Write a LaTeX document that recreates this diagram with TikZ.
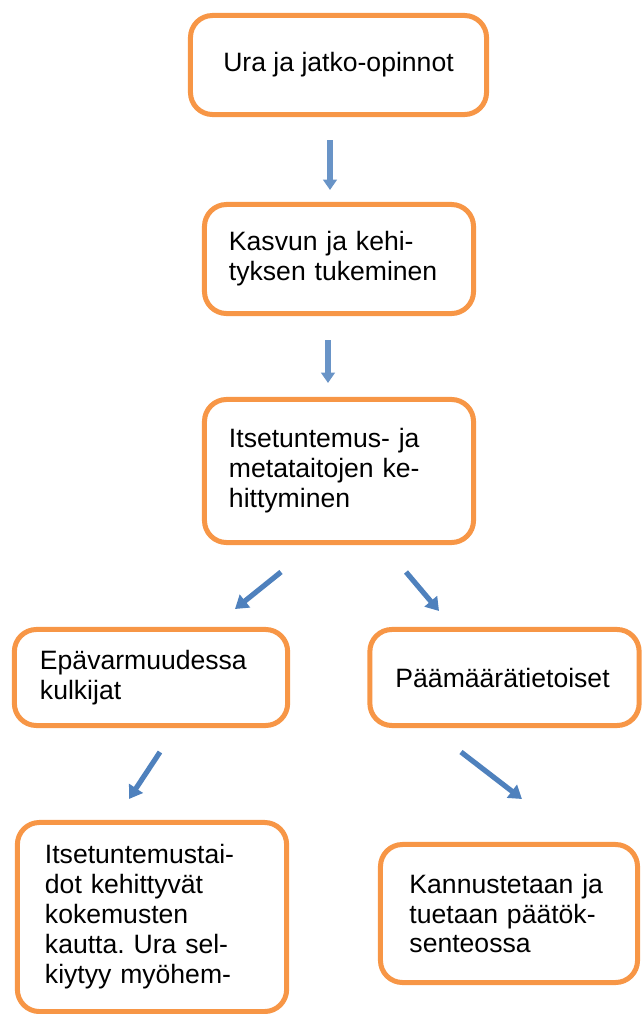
\documentclass[tikz,border=0pt]{standalone}
\usepackage{fontspec}
\setmainfont{Liberation Sans}
\frenchspacing
\usetikzlibrary{arrows.meta}

\definecolor{boxorange}{HTML}{F79646}
\definecolor{arrowblue}{HTML}{4F81BD}

\tikzset{
    box/.style={draw=boxorange, line width=0.125cm, rounded corners=0.55cm,
        fill=white, font=\fontsize{18.9}{21.3}\selectfont, align=left,
        inner ysep=0pt},
    bluearrow/.style={arrowblue, line width=0.13cm,
        -{Triangle[width=0.4cm,length=0.32cm]}},
    downarrow/.style={arrowblue!85, line width=0.15cm,
        -{Triangle[width=0.34cm,length=0.26cm]}}
}

\begin{document}
\begin{tikzpicture}[x=0.025cm, y=-0.025cm]

\useasboundingbox (0,0) rectangle (644,1014);

% =========================================================
% Top of the chain
% =========================================================

\node[box, minimum width=7.4cm, minimum height=2.475cm] (ura) at (338.5,65)
    {Ura ja jatko-opinnot};

\node[box, minimum width=6.725cm, minimum height=2.725cm,
      inner xsep=0.61cm, text width=5.5cm] (kasvu) at (339,259)
    {Kasvun ja kehi-\\tyksen tukeminen};

\node[box, minimum width=6.725cm, minimum height=3.575cm,
      inner xsep=0.61cm, text width=5.5cm] (itse) at (339,471)
    {Itsetuntemus- ja\\metataitojen ke-\\hittyminen};


% =========================================================
% Two groups
% =========================================================

\node[box, minimum width=6.825cm, minimum height=2.4cm,
      inner xsep=0.64cm, text width=5.55cm] (epa) at (151,677.5)
    {Epävarmuudessa\\kulkijat};

\node[box, minimum width=6.65cm, minimum height=2.4cm,
      inner xsep=0.64cm, text width=5.45cm] (paa) at (504.5,677.5)
    {Päämäärätietoiset};


% =========================================================
% Outcomes
% =========================================================

\node[box, minimum width=6.725cm, minimum height=4.725cm,
      inner xsep=0.69cm, text width=5.35cm] (kokemus) at (152,917)
    {Itsetuntemustai-\\dot kehittyvät\\kokemusten\\kautta. Ura sel-\\kiytyy myöhem-};

\node[box, minimum width=6.425cm, minimum height=3.45cm,
      inner xsep=0.725cm, text width=4.975cm] (kannustus) at (509,913.5)
    {Kannustetaan ja\\tuetaan päätök-\\senteossa};


% =========================================================
% Arrows
% =========================================================

\coordinate (a1s) at (330,140);
\coordinate (a1e) at (330,190);
\coordinate (a2s) at (328,340);
\coordinate (a2e) at (328,383);
\coordinate (a3ls) at (281,572);
\coordinate (a3le) at (235,609);
\coordinate (a3rs) at (406,572);
\coordinate (a3re) at (439,611);
\coordinate (a4ls) at (160,752);
\coordinate (a4le) at (129,799);
\coordinate (a4rs) at (461,752);
\coordinate (a4re) at (522,799);

\draw[downarrow] (a1s) -- (a1e);
\draw[downarrow] (a2s) -- (a2e);
\draw[bluearrow] (a3ls) -- (a3le);
\draw[bluearrow] (a3rs) -- (a3re);
\draw[bluearrow] (a4ls) -- (a4le);
\draw[bluearrow] (a4rs) -- (a4re);

\end{tikzpicture}
\end{document}
